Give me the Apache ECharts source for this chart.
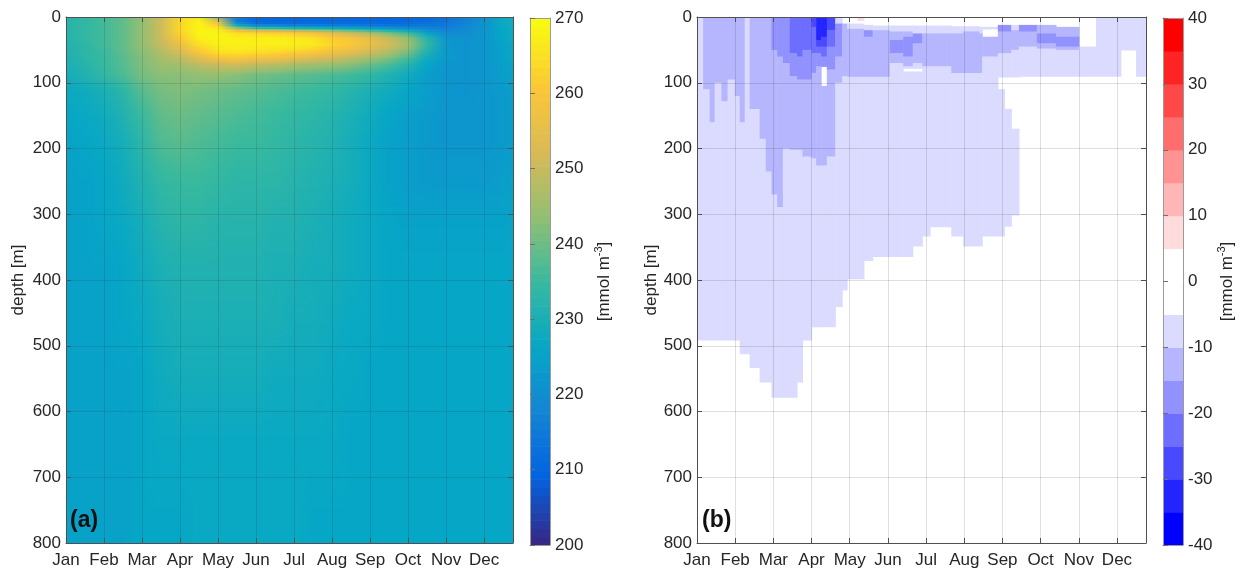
<!DOCTYPE html>
<html>
<head>
<meta charset="utf-8">
<title>Seasonal depth sections</title>
<script src="https://cdn.jsdelivr.net/npm/echarts@6/dist/echarts.min.js"></script>
<style>
  html, body { margin: 0; background: #fff; }
  #chart { width: 1240px; height: 570px; }
</style>
</head>
<body>
<div id="chart"></div>
<script>
// month labels sit on the month ticks (x in months since Jan 1)
const months = ['Jan', 'Feb', 'Mar', 'Apr', 'May', 'Jun', 'Jul', 'Aug', 'Sep', 'Oct', 'Nov', 'Dec']
const X_MAX = 11.76

// panel (a): values at half-month nodes (columns) and depth nodes (rows)
const aTimes = [0, 0.5, 1, 1.5, 2, 2.5, 3, 3.5, 4, 4.5, 5, 5.5, 6, 6.5, 7, 7.5, 8, 8.5, 9, 9.5, 10, 10.5, 11, 11.5, 12]
const aDepths = [0, 5, 10, 15, 20, 25, 32, 42, 52, 62, 72, 88, 112, 150, 195, 250, 315, 385, 460, 540, 640, 800]
const aValues = [
  [232, 234, 236, 239, 244, 251, 264, 266, 240, 218, 210, 210, 210, 210, 210, 210, 210, 210, 210, 211, 213, 216, 221, 227, 230],
  [232, 234, 236, 239, 244, 251, 264, 268, 250, 214, 210, 210, 210, 210, 210, 210, 210, 210, 210, 211, 213, 216, 221, 227, 230],
  [232, 234, 236, 239, 244, 251, 264, 269, 260, 220, 212, 211, 211, 211, 211, 211, 211, 211, 212, 213, 214, 217, 221, 227, 230],
  [232, 234, 236, 239, 244, 251, 264, 269, 265, 236, 226, 224, 222, 221, 220, 219, 218, 216, 215, 215, 215, 218, 221, 227, 230],
  [232, 234, 236, 239, 244, 251, 264, 269, 268, 256, 250, 248, 245, 243, 240, 237, 234, 230, 226, 220, 217, 219, 222, 226, 229],
  [232, 234, 236, 239, 244, 251, 263, 269, 269, 266, 264, 263, 262, 259, 255, 251, 247, 242, 236, 226, 219, 220, 222, 226, 229],
  [232, 234, 236, 239, 244, 251, 261, 268, 269, 268, 268, 268, 267, 266, 262, 259, 255, 250, 244, 232, 222, 221, 222, 226, 229],
  [231, 233, 236, 239, 244, 250, 257, 265, 268, 268, 268, 268, 268, 267, 264, 261, 257, 252, 246, 234, 223, 221, 222, 225, 228],
  [231, 233, 235, 239, 243, 248, 253, 261, 266, 267, 266, 265, 264, 262, 259, 256, 252, 248, 242, 231, 223, 221, 222, 225, 228],
  [230, 233, 235, 238, 242, 246, 249, 255, 260, 261, 259, 258, 256, 254, 252, 249, 246, 242, 237, 228, 223, 221, 222, 225, 227],
  [230, 232, 235, 238, 242, 245, 246, 249, 251, 252, 250, 249, 247, 246, 245, 243, 240, 237, 232, 226, 222, 221, 222, 224, 227],
  [229, 231, 234, 237, 241, 243, 243, 244, 244, 243, 241, 240, 239, 238, 237, 236, 234, 231, 228, 224, 222, 221, 222, 224, 226],
  [227, 228, 230, 233, 238, 241, 242, 241, 240, 239, 238, 237, 236, 235, 234, 232, 230, 228, 226, 224, 222, 221, 222, 223, 225],
  [226, 227, 228, 231, 235, 239, 240, 239, 238, 237, 236, 235, 234, 233, 232, 230, 228, 226, 224, 223, 222, 222, 222, 223, 224],
  [225, 226, 227, 229, 233, 237, 238, 237, 236, 235, 235, 234, 233, 232, 231, 229, 227, 225, 224, 223, 222, 222, 222, 223, 224],
  [225, 225, 226, 228, 231, 234, 235, 235, 234, 233, 233, 233, 232, 231, 230, 229, 227, 225, 224, 223, 223, 223, 223, 224, 225],
  [225, 225, 226, 227, 229, 232, 233, 233, 232, 232, 232, 231, 231, 230, 229, 228, 227, 226, 225, 225, 225, 225, 225, 225, 226],
  [225, 225, 225, 226, 228, 230, 231, 231, 231, 231, 231, 230, 230, 229, 229, 228, 227, 226, 226, 226, 226, 226, 226, 226, 226],
  [225, 225, 225, 226, 227, 229, 230, 230, 230, 230, 230, 230, 229, 229, 228, 227, 227, 226, 226, 226, 226, 226, 226, 226, 226],
  [225, 225, 225, 225, 226, 228, 229, 229, 229, 229, 229, 228, 228, 228, 227, 227, 226, 226, 226, 226, 226, 226, 226, 226, 226],
  [225, 225, 225, 225, 226, 227, 227, 227, 227, 227, 227, 227, 227, 227, 227, 226, 226, 226, 226, 226, 226, 226, 226, 226, 226],
  [225, 225, 225, 225, 226, 226, 226, 227, 227, 227, 227, 227, 227, 226, 226, 226, 226, 226, 226, 226, 226, 226, 226, 226, 226]
]

// panel (b): time columns, each a list of [bottom depth, value] runs from the surface down
const bEdges = [0, 0.16, 0.33, 0.46, 0.64, 0.8, 0.99, 1.12, 1.25, 1.38, 1.64, 1.8, 1.95, 2.1, 2.25, 2.43, 2.62, 2.76, 3.0, 3.12, 3.25, 3.4, 3.62, 3.8, 3.93, 4.2, 4.37, 4.6, 5.05, 5.4, 5.65, 5.9, 6.1, 6.66, 6.97, 7.4, 7.47, 7.88, 8.05, 8.23, 8.43, 8.9, 9.4, 10.0, 10.45, 11.1, 11.5, 11.76]
const bColumns = [
  [[491, -7]],
  [[110, -12], [491, -7]],
  [[160, -12], [491, -7]],
  [[100, -12], [491, -7]],
  [[128, -12], [491, -7]],
  [[95, -12], [491, -7]],
  [[120, -12], [491, -7]],
  [[160, -12], [512, -7]],
  [[512, -7]],
  [[140, -12], [533, -7]],
  [[185, -12], [555, -7]],
  [[235, -12], [555, -7]],
  [[50, -17], [270, -12], [578, -7]],
  [[60, -17], [289, -12], [578, -7]],
  [[70, -17], [200, -12], [578, -7]],
  [[55, -22], [90, -17], [202, -12], [578, -7]],
  [[60, -22], [95, -17], [202, -12], [555, -7]],
  [[50, -22], [95, -17], [212, -12], [491, -7]],
  [[15, -27], [55, -22], [85, -17], [215, -12], [471, -7]],
  [[35, -32], [45, -27], [55, -22], [75, -17], [226, -12], [471, -7]],
  [[30, -32], [45, -27], [60, -22], [75, -17], [105, 0], [226, -12], [471, -7]],
  [[20, -27], [45, -22], [80, -17], [212, -12], [471, -7]],
  [[10, -7], [60, -17], [100, -12], [440, -7]],
  [[10, 0], [90, -12], [415, -7]],
  [[10, 0], [18, -7], [91, -12], [398, -7]],
  [[5, 7], [10, 0], [18, -7], [91, -12], [398, -7]],
  [[12, 0], [20, -7], [30, -17], [91, -12], [370, -7]],
  [[13, 0], [20, -7], [91, -12], [364, -7]],
  [[13, 0], [22, -7], [35, -12], [55, -17], [70, -12], [364, -7]],
  [[13, 0], [22, -7], [30, -12], [60, -17], [75, -12], [78, -7], [83, 0], [364, -7]],
  [[13, 0], [25, -7], [40, -17], [70, -12], [78, -7], [83, 0], [348, -7]],
  [[13, 0], [25, -7], [75, -12], [333, -7]],
  [[13, 0], [25, -7], [75, -12], [319, -7]],
  [[14, 0], [25, -7], [85, -12], [333, -7]],
  [[14, 0], [22, -7], [85, -12], [348, -7]],
  [[15, 0], [25, -7], [85, -12], [348, -7]],
  [[15, 0], [18, -7], [30, 0], [60, -12], [333, -7]],
  [[12, 0], [22, -17], [55, -12], [91, -7], [110, 0], [333, -7]],
  [[12, 0], [22, -17], [55, -12], [91, -7], [140, 0], [318, -7]],
  [[12, 0], [20, -7], [50, -12], [91, -7], [170, 0], [301, -7]],
  [[12, 0], [22, -17], [45, -12], [90, -7]],
  [[12, 0], [25, -12], [40, -17], [48, -12], [90, -7]],
  [[15, 0], [30, -12], [45, -17], [50, -12], [90, -7]],
  [[45, 0], [90, -7]],
  [[90, -7]],
  [[50, -7]],
  [[90, -7]]
]

const FONT = '"Liberation Sans", Arial, Helvetica, sans-serif'
const TEXT = '#262626'
const AXIS_COLOR = '#505050'
const GRID_COLOR = 'rgba(38,38,38,0.15)'

// parula-like stops (MATLAB default colormap)
const PARULA = ['#352a87', '#0363e1', '#1485d4', '#06a7c6', '#38b99e', '#92bf73', '#d9ba56', '#fcc737', '#f9fb0e']

function hexToRgb(h) {
  return [parseInt(h.slice(1, 3), 16), parseInt(h.slice(3, 5), 16), parseInt(h.slice(5, 7), 16)]
}

function parulaAt(t) {
  const n = PARULA.length - 1
  const x = Math.max(0, Math.min(1, t)) * n
  const i = Math.min(n - 1, Math.floor(x))
  const f = x - i
  const a = hexToRgb(PARULA[i])
  const b = hexToRgb(PARULA[i + 1])
  return 'rgb(' + a.map((c, k) => Math.round(c + (b[k] - c) * f)).join(',') + ')'
}

function parula(v) {
  return parulaAt((v - 200) / 70)
}

function anomalyColor(v) {
  const bin = Math.floor(v / 5)
  const k = bin < 0 ? -bin - 1 : bin
  const c = Math.round(255 * (1 - k / 7))
  if (k === 0) return '#ffffff'
  return bin < 0 ? `rgb(${c},${c},255)` : `rgb(255,${c},${c})`
}

// cells between neighbouring nodes, with the four corner values
const aItems = []
for (let j = 0; j < aDepths.length - 1; j++) {
  for (let i = 0; i < aTimes.length - 1; i++) {
    aItems.push([aTimes[i], aTimes[i + 1], aDepths[j], aDepths[j + 1],
      aValues[j][i], aValues[j][i + 1], aValues[j + 1][i], aValues[j + 1][i + 1]])
  }
}

const bItems = []
bColumns.forEach((runs, c) => {
  let top = 0
  runs.forEach(([bottom, v]) => {
    if (v !== 0) bItems.push([bEdges[c], bEdges[c + 1], top, bottom, v])
    top = bottom
  })
})

const aBar = []
for (let i = 0; i < 64; i++) aBar.push([0, 1, 200 + i * 70 / 64, 200 + (i + 1) * 70 / 64, i / 63])
const bBar = []
for (let v = -40; v < 40; v += 5) bBar.push([0, 1, v, v + 5, v + 2.5])

function cellBox(api) {
  const p0 = api.coord([api.value(0), api.value(2)])
  const p1 = api.coord([api.value(1), api.value(3)])
  return { x: p0[0], y: Math.min(p0[1], p1[1]), w: p1[0] - p0[0], h: Math.abs(p1[1] - p0[1]) }
}

function cellRect(api, fill) {
  const b = cellBox(api)
  return { type: 'rect', shape: { x: b.x, y: b.y, width: b.w + 0.6, height: b.h + 0.6 }, style: { fill } }
}

// shade a cell like MATLAB "shading interp": 2px pixel-aligned strips, each a left-to-right gradient
function shadedCell(api) {
  const b = cellBox(api)
  const tl = api.value(4), tr = api.value(5), bl = api.value(6), br = api.value(7)
  const x0 = Math.round(b.x), x1 = Math.round(b.x + b.w)
  const y0 = Math.round(b.y), y1 = Math.round(b.y + b.h)
  const children = []
  for (let y = y0; y < y1; y += 2) {
    const hh = Math.min(2, y1 - y)
    const f = Math.max(0, Math.min(1, (y + hh / 2 - b.y) / b.h))
    const left = tl + (bl - tl) * f
    const right = tr + (br - tr) * f
    children.push({
      type: 'rect',
      shape: { x: x0, y, width: x1 - x0, height: hh },
      style: {
        fill: new echarts.graphic.LinearGradient(0, 0, 1, 0, [
          { offset: 0, color: parula(left) },
          { offset: 1, color: parula(right) }
        ])
      }
    })
  }
  return { type: 'group', children }
}

function monthAxis(gridIndex, position) {
  const bottom = position === 'bottom'
  return {
    type: 'value', gridIndex, position, min: 0, max: X_MAX, interval: 1, z: 10,
    axisLine: { show: true, onZero: false, lineStyle: { color: AXIS_COLOR } },
    axisTick: { show: true, inside: true, length: 5, lineStyle: { color: AXIS_COLOR } },
    axisLabel: {
      show: bottom, color: TEXT, fontSize: 17, fontFamily: FONT, margin: 9,
      formatter: v => (Number.isInteger(v) && v < 12 ? months[v] : '')
    },
    splitLine: { show: bottom, lineStyle: { color: GRID_COLOR } }
  }
}

function depthAxis(gridIndex, position, nameGap) {
  const left = position === 'left'
  return {
    type: 'value', gridIndex, position, inverse: true, min: 0, max: 800, interval: 100, z: 10,
    name: left ? 'depth [m]' : '', nameLocation: 'middle', nameRotate: 90, nameGap,
    nameTextStyle: { color: TEXT, fontSize: 17, fontFamily: FONT },
    axisLine: { show: true, onZero: false, lineStyle: { color: AXIS_COLOR } },
    axisTick: { show: true, inside: true, length: 5, lineStyle: { color: AXIS_COLOR } },
    axisLabel: { show: left, color: TEXT, fontSize: 17, fontFamily: FONT, margin: 5 },
    splitLine: { show: left, lineStyle: { color: GRID_COLOR } }
  }
}

function barXAxis(gridIndex, position) {
  return {
    type: 'value', gridIndex, position, min: 0, max: 1, z: 10,
    axisLine: { show: true, onZero: false, lineStyle: { color: '#9a9a9a' } },
    axisTick: { show: false }, axisLabel: { show: false }, splitLine: { show: false }
  }
}

function barYAxis(gridIndex, position, min, max, nameGap) {
  const right = position === 'right'
  return {
    type: 'value', gridIndex, position, min, max, interval: 10, z: 10,
    name: right ? '[mmol m{s|-3}]' : '', nameLocation: 'middle', nameRotate: 90, nameGap,
    nameTextStyle: {
      color: TEXT, fontSize: 17, fontFamily: FONT, lineHeight: 22,
      rich: { s: { fontSize: 11, fontFamily: FONT, color: TEXT, lineHeight: 12, verticalAlign: 'top' } }
    },
    axisLine: { show: true, onZero: false, lineStyle: { color: '#9a9a9a' } },
    axisTick: { show: !right, inside: true, length: 5, lineStyle: { color: '#707070' } },
    axisLabel: { show: right, color: TEXT, fontSize: 17, fontFamily: FONT, margin: 5 },
    splitLine: { show: false }
  }
}

const chart = echarts.init(document.getElementById('chart'))

chart.setOption({
  animation: false,
  backgroundColor: '#fff',
  grid: [
    { left: 66, top: 17, width: 447, height: 526 },
    { left: 697, top: 17, width: 449, height: 526 },
    { left: 530, top: 18, width: 20, height: 527 },
    { left: 1163, top: 18, width: 20, height: 527 }
  ],
  xAxis: [
    monthAxis(0, 'bottom'), monthAxis(0, 'top'),
    monthAxis(1, 'bottom'), monthAxis(1, 'top'),
    barXAxis(2, 'bottom'), barXAxis(2, 'top'),
    barXAxis(3, 'bottom'), barXAxis(3, 'top')
  ],
  yAxis: [
    depthAxis(0, 'left', 39), depthAxis(0, 'right', 0),
    depthAxis(1, 'left', 37), depthAxis(1, 'right', 0),
    barYAxis(2, 'right', 200, 270, 43), barYAxis(2, 'left', 200, 270, 0),
    barYAxis(3, 'right', -40, 40, 31), barYAxis(3, 'left', -40, 40, 0)
  ],
  series: [
    {
      type: 'custom', xAxisIndex: 0, yAxisIndex: 0, clip: true, silent: true,
      encode: { x: [0, 1], y: [2, 3] },
      data: aItems,
      renderItem: (params, api) => shadedCell(api)
    },
    {
      type: 'custom', xAxisIndex: 2, yAxisIndex: 2, clip: true, silent: true,
      encode: { x: [0, 1], y: [2, 3] },
      data: bItems,
      renderItem: (params, api) => cellRect(api, anomalyColor(api.value(4)))
    },
    {
      type: 'custom', xAxisIndex: 4, yAxisIndex: 4, clip: true, silent: true,
      encode: { x: [0, 1], y: [2, 3] },
      data: aBar,
      renderItem: (params, api) => cellRect(api, parulaAt(api.value(4)))
    },
    {
      type: 'custom', xAxisIndex: 6, yAxisIndex: 6, clip: true, silent: true,
      encode: { x: [0, 1], y: [2, 3] },
      data: bBar,
      renderItem: (params, api) => cellRect(api, anomalyColor(api.value(4)))
    }
  ],
  graphic: [
    { type: 'text', left: 70, top: 509, z: 20, style: { text: '(a)', font: 'bold 23px ' + FONT, fill: '#111' } },
    { type: 'text', left: 702, top: 509, z: 20, style: { text: '(b)', font: 'bold 23px ' + FONT, fill: '#111' } }
  ]
})
</script>
</body>
</html>
